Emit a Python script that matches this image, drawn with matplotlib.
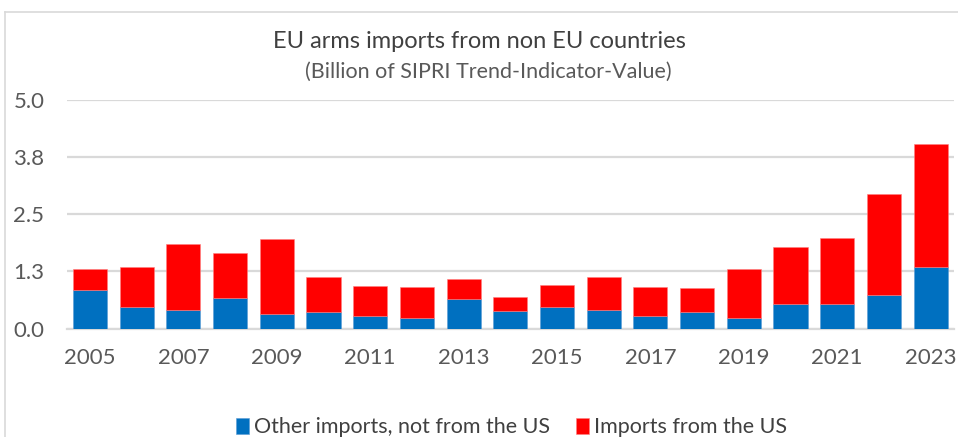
import matplotlib as m
m.use("Agg")
import matplotlib.pyplot as plt
from matplotlib.lines import Line2D

years = list(range(2005, 2024))
# totals and non-US part (billion TIV)
total = [1.30, 1.34, 1.84, 1.66, 1.95, 1.13, 0.93, 0.92, 1.09, 0.69,
         0.96, 1.13, 0.90, 0.89, 1.31, 1.78, 1.98, 2.94, 4.02]
other = [0.85, 0.465, 0.40, 0.68, 0.33, 0.37, 0.28, 0.23, 0.64, 0.38,
         0.465, 0.41, 0.28, 0.36, 0.225, 0.53, 0.54, 0.73, 1.35]
us = [round(t - o, 3) for t, o in zip(total, other)]

y_ticks = [0, 1.25, 2.5, 3.75, 5.0]
y_labels = ["0.0", "1.3", "2.5", "3.8", "5.0"]

plt.rcParams['font.family'] = ['Lato', 'DejaVu Sans']

fig = plt.figure(figsize=(9.58, 4.37), dpi=100)
ax = fig.add_axes([0.0696, 0.2478, 0.9262, 0.5245])

x = list(range(len(years)))
ax.bar(x, other, width=0.73, color='#0070C0', edgecolor='#5b9bd5', linewidth=0.4,
       label='Other imports, not from the US', zorder=3)
ax.bar(x, us, width=0.73, bottom=other, color='#FF0000', edgecolor='#ff8080',
       linewidth=0.4, label='Imports from the US', zorder=3)

ax.set_xlim(-0.5, len(years) - 0.5)
ax.set_ylim(0, 5.0)
ax.set_yticks(y_ticks)
ax.set_yticklabels(y_labels)
ax.set_xticks(x[::2])
ax.set_xticklabels([str(y) for y in years[::2]])
ax.tick_params(axis='both', length=0, labelsize=16, colors='#595959')
ax.tick_params(axis='y', pad=16)
ax.tick_params(axis='x', pad=14)

ax.grid(axis='y', color='#D9D9D9', linewidth=1.6, zorder=0)
for s in ['top', 'right', 'left']:
    ax.spines[s].set_visible(False)
ax.spines['bottom'].set_color('#D9D9D9')
ax.spines['bottom'].set_linewidth(1.6)

fig.text(0.50, 0.904, 'EU arms imports from non EU countries', ha='center', va='center',
         fontsize=17, color='#404040')
fig.text(0.51, 0.835, '(Billion of SIPRI Trend-Indicator-Value)', ha='center', va='center',
         fontsize=15.5, color='#595959')

fig.legend(loc='center', bbox_to_anchor=(0.534, 0.022), ncol=2, frameon=False,
           fontsize=15.5, labelcolor='#404040', handlelength=0.6, handleheight=0.8,
           handletextpad=0.25, columnspacing=1.2)

# chart frame lines (top and left, cropped Excel border)
fig.add_artist(Line2D([0.0055, 0.0055], [0, 0.972], color='#D9D9D9', linewidth=1.2))
fig.add_artist(Line2D([0.0055, 1.0], [0.972, 0.972], color='#D9D9D9', linewidth=1.2))

fig.savefig('out.png', dpi=100)
